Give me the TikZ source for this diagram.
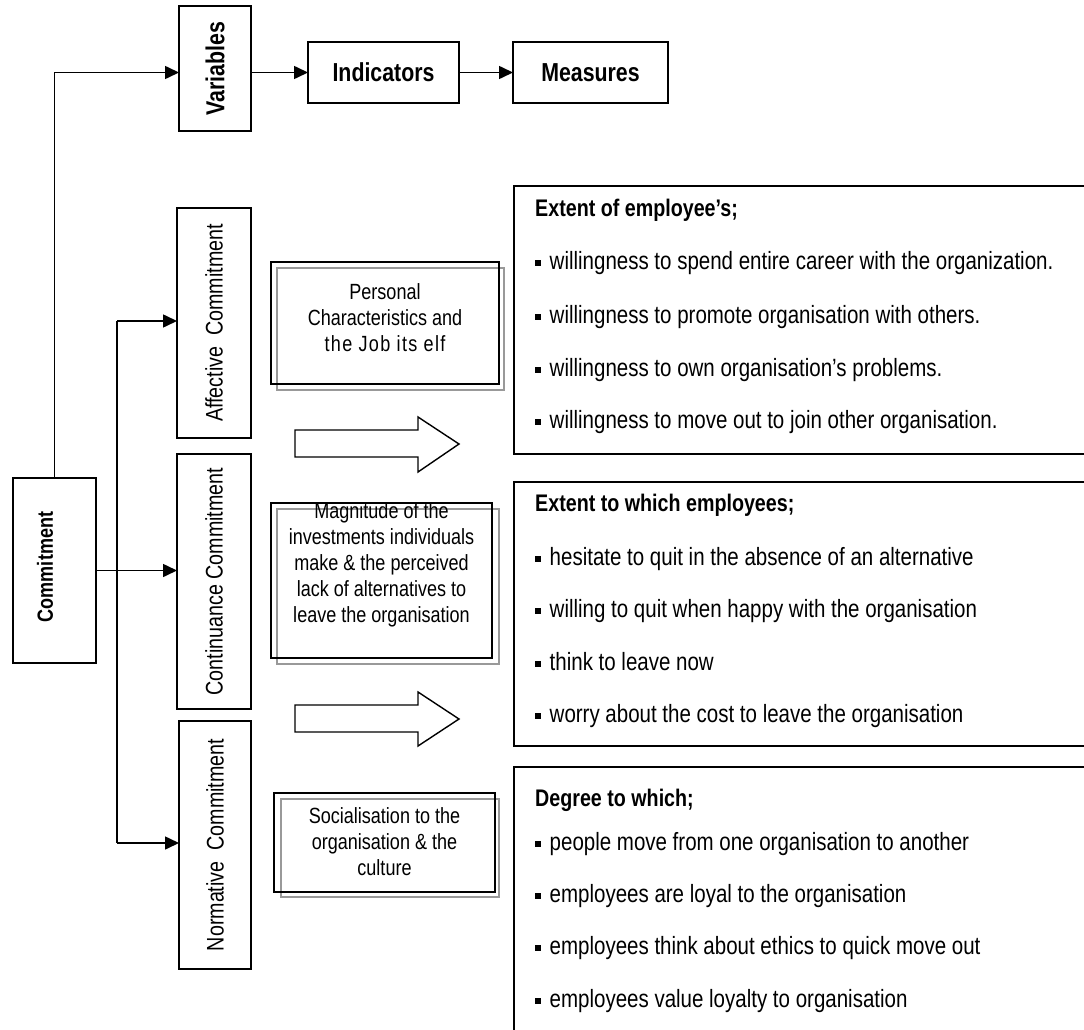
\documentclass[tikz,border=0pt]{standalone}
\usepackage{graphicx}
\usepackage{fontspec}
\setmainfont{Liberation Sans}[FakeStretch=0.82]
\usetikzlibrary{arrows.meta}
\begin{document}
\begin{tikzpicture}[x=1pt,y=-1pt,
  bx/.style={draw=black,line width=1.6pt,inner sep=0pt,outer sep=0pt},
  grayframe/.style={draw=black!40,line width=1.6pt},
  arr/.style={line width=1.6pt,-{Triangle[length=14pt,width=13pt]}},
  ln/.style={line width=1.6pt},
  hollow/.style={draw=black,line width=1.4pt,line join=miter},
  topf/.style={font=\bfseries\fontsize{26}{30}\selectfont},
  sidef/.style={font=\fontsize{24}{28}\selectfont},
  midf/.style={font=\fontsize{22}{26}\selectfont,align=center,inner sep=0pt},
  rt/.style={anchor=west,inner sep=0pt,text height=17pt,text depth=5pt,font=\fontsize{25}{29}\selectfont},
  rh/.style={rt,font=\bfseries\fontsize{24}{28}\selectfont},
]
\clip (0,0) rectangle (1084,1030);
\fill[white] (0,0) rectangle (1084,1030);

% top row
\node[bx,minimum width=72pt,minimum height=125pt,topf] (var) at (215,68.5) {\rotatebox{90}{Variables}};
\node[bx,minimum width=151pt,minimum height=61pt,topf] (ind) at (383.5,72.5) {Indicators};
\node[bx,minimum width=155pt,minimum height=61pt,topf] (meas) at (590.5,72.5) {Measures};

% commitment
\node[bx,minimum width=83pt,minimum height=185pt] (comm) at (54.5,570.5) {};
\node[font=\bfseries\fontsize{22}{26}\selectfont,inner sep=0pt] (commlbl) at (45,567) {\rotatebox{90}{Commitment}};

% dimension boxes
\node[bx,minimum width=74pt,minimum height=230pt,sidef] (aff) at (214,323) {\rotatebox{90}{Affective~ Commitment}};
\node[bx,minimum width=74pt,minimum height=255pt,sidef] (cont) at (214,581.5) {\rotatebox{90}{Continuance Commitment}};
\node[bx,minimum width=72pt,minimum height=248pt,sidef] (norm) at (215,845) {\rotatebox{90}{Normative~ Commitment}};

% connectors
\draw[arr] (comm.north) |- (var.west |- ind.west);
\draw[arr] (var.east |- ind.west) -- (ind.west);
\draw[arr] (ind.east) -- (meas.west);
\coordinate (br1) at (117,321);
\coordinate (br2) at (117,843);
\draw[ln] (br1) -- (br2);
\draw[arr] (br1) -- (aff.west |- br1);
\draw[arr] (br2) -- (norm.west |- br2);
\draw[arr] (comm.east) -- (comm.east -| cont.west);

% middle double-framed boxes
\node[bx,minimum width=228pt,minimum height=122pt] (pers) at (385,323) {};
\draw[grayframe] ([shift={(6,6)}]pers.south west) rectangle ([shift={(5,6)}]pers.north east);
\draw[line width=1.6pt] (pers.south west) rectangle (pers.north east);
\node[midf] (perstxt) at (385,318) {Personal\\Characteristics and\\{\addfontfeature{LetterSpace=6.0}the Job its elf}};

\node[bx,minimum width=221pt,minimum height=155pt] (mag) at (381.5,580.5) {};
\draw[grayframe] ([shift={(6,6)}]mag.south west) rectangle ([shift={(7,6)}]mag.north east);
\draw[line width=1.6pt] (mag.south west) rectangle (mag.north east);
\node[midf] (magtxt) at (381.5,565) {Magnitude of the\\investments individuals\\make \& the perceived\\lack of alternatives to\\leave the organisation};

\node[bx,minimum width=221pt,minimum height=99pt] (soc) at (384.5,842.5) {};
\draw[grayframe] ([shift={(7,5)}]soc.south west) rectangle ([shift={(4,6)}]soc.north east);
\draw[line width=1.6pt] (soc.south west) rectangle (soc.north east);
\node[midf] (soctxt) at (384.5,842) {Socialisation to the\\organisation \& the\\culture};

% hollow block arrows
\draw[hollow] (295,430) -- (418,430) -- (418,417) -- (459,444) -- (418,472) -- (418,457) -- (295,457) -- cycle;
\draw[hollow] (295,705) -- (418,705) -- (418,692) -- (459,719) -- (418,746) -- (418,732) -- (295,732) -- cycle;

% right measure boxes
\node[bx,minimum width=586pt,minimum height=268pt] (m1) at (807,320) {};
\node[bx,minimum width=586pt,minimum height=264pt] (m2) at (807,614) {};
\node[bx,minimum width=586pt,minimum height=283pt] (m3) at (807,908.5) {};

\newcommand{\sqb}{\rule[3.5pt]{5.5pt}{5.5pt}\hspace{9pt}}

\node[rh] (h1) at (535,210) {Extent of employee’s;};
\node[rt] (a1) at (535,263) {\sqb willingness to spend entire career with the organization.};
\node[rt] (a2) at (535,317) {\sqb willingness to promote organisation with others.};
\node[rt] (a3) at (535,370) {\sqb willingness to own organisation’s problems.};
\node[rt] (a4) at (535,422) {\sqb willingness to move out to join other organisation.};

\node[rh] (h2) at (535,505) {Extent to which employees;};
\node[rt] (c1) at (535,559) {\sqb hesitate to quit in the absence of an alternative};
\node[rt] (c2) at (535,611) {\sqb willing to quit when happy with the organisation};
\node[rt] (c3) at (535,664) {\sqb think to leave now};
\node[rt] (c4) at (535,716) {\sqb worry about the cost to leave the organisation};

\node[rh] (h3) at (535,800) {Degree to which;};
\node[rt] (n1) at (535,844) {\sqb people move from one organisation to another};
\node[rt] (n2) at (535,896) {\sqb employees are loyal to the organisation};
\node[rt] (n3) at (535,948) {\sqb employees think about ethics to quick move out};
\node[rt] (n4) at (535,1001) {\sqb employees value loyalty to organisation};
\end{tikzpicture}
\end{document}
